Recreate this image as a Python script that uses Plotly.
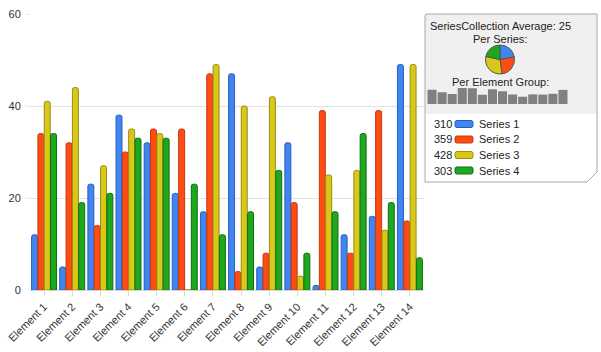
import plotly.graph_objects as go

W, H = 601, 352

categories = [f"Element {i}" for i in range(1, 15)]
series_names = ["Series 1", "Series 2", "Series 3", "Series 4"]
s1 = [12, 5, 23, 38, 32, 21, 17, 47, 5, 32, 1, 12, 16, 49]
s2 = [34, 32, 14, 30, 35, 35, 47, 4, 8, 19, 39, 8, 39, 15]
s3 = [41, 44, 27, 35, 34, 0, 49, 40, 42, 3, 25, 26, 13, 49]
s4 = [34, 19, 21, 33, 33, 23, 12, 17, 26, 8, 17, 34, 19, 7]
series_values = [s1, s2, s3, s4]
fill_colors = ["#3f86f2", "#ff4c14", "#d9c81a", "#1ea81e"]
line_colors = ["#2a5cb8", "#c23a0c", "#9a8c0c", "#0e6e0e"]
y_ticks = [0, 20, 40, 60]

FONT = "Liberation Sans, Arial, sans-serif"

def px(x):
    return x / W

def py(y):
    return 1 - y / H

fig = go.Figure()

for name, vals, fc, lc in zip(series_names, series_values, fill_colors, line_colors):
    fig.add_trace(go.Bar(
        x=categories, y=vals, name=name,
        marker=dict(color=fc, line=dict(color=lc, width=1), cornerradius=2),
        xaxis="x", yaxis="y", showlegend=False,
    ))

totals = [sum(v) for v in series_values]
group_totals = [sum(vals[i] for vals in series_values) for i in range(len(categories))]

# pie (per series)
fig.add_trace(go.Pie(
    values=totals, labels=series_names, sort=False, direction="clockwise", rotation=0,
    marker=dict(colors=fill_colors, line=dict(color="#555555", width=1)),
    textinfo="none", hoverinfo="label+value", showlegend=False,
    domain=dict(x=[px(485), px(515)], y=[py(74), py(45)]),
))

# mini bars (per element group)
fig.add_trace(go.Bar(
    x=categories, y=group_totals, marker=dict(color="#808080", line=dict(width=0)),
    xaxis="x2", yaxis="y2", showlegend=False, width=0.9,
))

shapes = []
shapes.append(dict(type="path", xref="paper", yref="paper",
                   path=f"M {px(425)},{py(16)} Q {px(425)},{py(14)} {px(427)},{py(14)} L {px(597)},{py(14)} L {px(597)},{py(114)} L {px(425)},{py(114)} Z",
                   fillcolor="#f0f0f0", line=dict(width=0), layer="below"))
shapes.append(dict(type="path", xref="paper", yref="paper",
                   path=f"M {px(425)},{py(16)} Q {px(425)},{py(14)} {px(427)},{py(14)} L {px(597)},{py(14)} L {px(597)},{py(172)} L {px(587)},{py(182)} L {px(425)},{py(182)} Z",
                   fillcolor="rgba(0,0,0,0)", line=dict(color="#a8a8a8", width=1)))
# gridline extension to the left of the plot area (as in the reference)
for t in y_ticks[1:]:
    shapes.append(dict(type="line", xref="paper", yref="y", x0=px(25), x1=px(30), y0=t, y1=t,
                       line=dict(color="#e2e2e2", width=1), layer="below"))

annotations = [
    dict(text="SeriesCollection Average: 25", x=px(500), y=py(26)),
    dict(text="Per Series:", x=px(500), y=py(39)),
    dict(text="Per Element Group:", x=px(500), y=py(82)),
]
for a in annotations:
    a.update(xref="paper", yref="paper", showarrow=False, xanchor="center", yanchor="middle",
             font=dict(family=FONT, size=11, color="#222222"))

row_y = [124, 139.5, 155, 170.5]
for yy, tot, name, fc, lc in zip(row_y, totals, series_names, fill_colors, line_colors):
    annotations.append(dict(text=str(tot), x=px(432), y=py(yy), xref="paper", yref="paper",
                            showarrow=False, xanchor="left", yanchor="middle",
                            font=dict(family=FONT, size=11, color="#222222")))
    annotations.append(dict(text=name, x=px(477), y=py(yy), xref="paper", yref="paper",
                            showarrow=False, xanchor="left", yanchor="middle",
                            font=dict(family=FONT, size=11, color="#222222")))
    x0, x1, y0, y1, r = 455, 473, yy - 3.5, yy + 3.5, 2
    path = (f"M {px(x0 + r)},{py(y0)} L {px(x1 - r)},{py(y0)} Q {px(x1)},{py(y0)} {px(x1)},{py(y0 + r)} "
            f"L {px(x1)},{py(y1 - r)} Q {px(x1)},{py(y1)} {px(x1 - r)},{py(y1)} L {px(x0 + r)},{py(y1)} "
            f"Q {px(x0)},{py(y1)} {px(x0)},{py(y1 - r)} L {px(x0)},{py(y0 + r)} Q {px(x0)},{py(y0)} {px(x0 + r)},{py(y0)} Z")
    shapes.append(dict(type="path", xref="paper", yref="paper", path=path,
                       fillcolor=fc, line=dict(color=lc, width=1)))

fig.update_layout(
    template="none",
    width=W, height=H,
    margin=dict(l=0, r=0, t=0, b=0, pad=0, autoexpand=False),
    paper_bgcolor="white", plot_bgcolor="white",
    barmode="group", bargap=0.1, bargroupgap=0.06,
    font=dict(family=FONT, size=11, color="#333333"),
    xaxis=dict(domain=[px(30), px(424)], anchor="y", tickangle=-45, automargin=False,
               showgrid=False, showline=True, linecolor="#d8d8d8", zeroline=False,
               ticks="outside", ticklen=5, tickcolor="#d8d8d8",
               tickfont=dict(family=FONT, size=11, color="#333333")),
    yaxis=dict(domain=[py(290), py(14)], anchor="x", range=[0, 60], tickvals=y_ticks,
               automargin=False, showgrid=True, gridcolor="#e2e2e2", zeroline=False, showline=False,
               ticks="outside", ticklen=6, tickcolor="rgba(0,0,0,0)",
               tickfont=dict(family=FONT, size=11, color="#333333")),
    xaxis2=dict(domain=[px(427), px(568)], anchor="y2", visible=False, automargin=False),
    yaxis2=dict(domain=[py(104), py(88)], anchor="x2", range=[0, max(group_totals)],
                visible=False, automargin=False),
    shapes=shapes, annotations=annotations,
)

fig.write_html("out.html")
